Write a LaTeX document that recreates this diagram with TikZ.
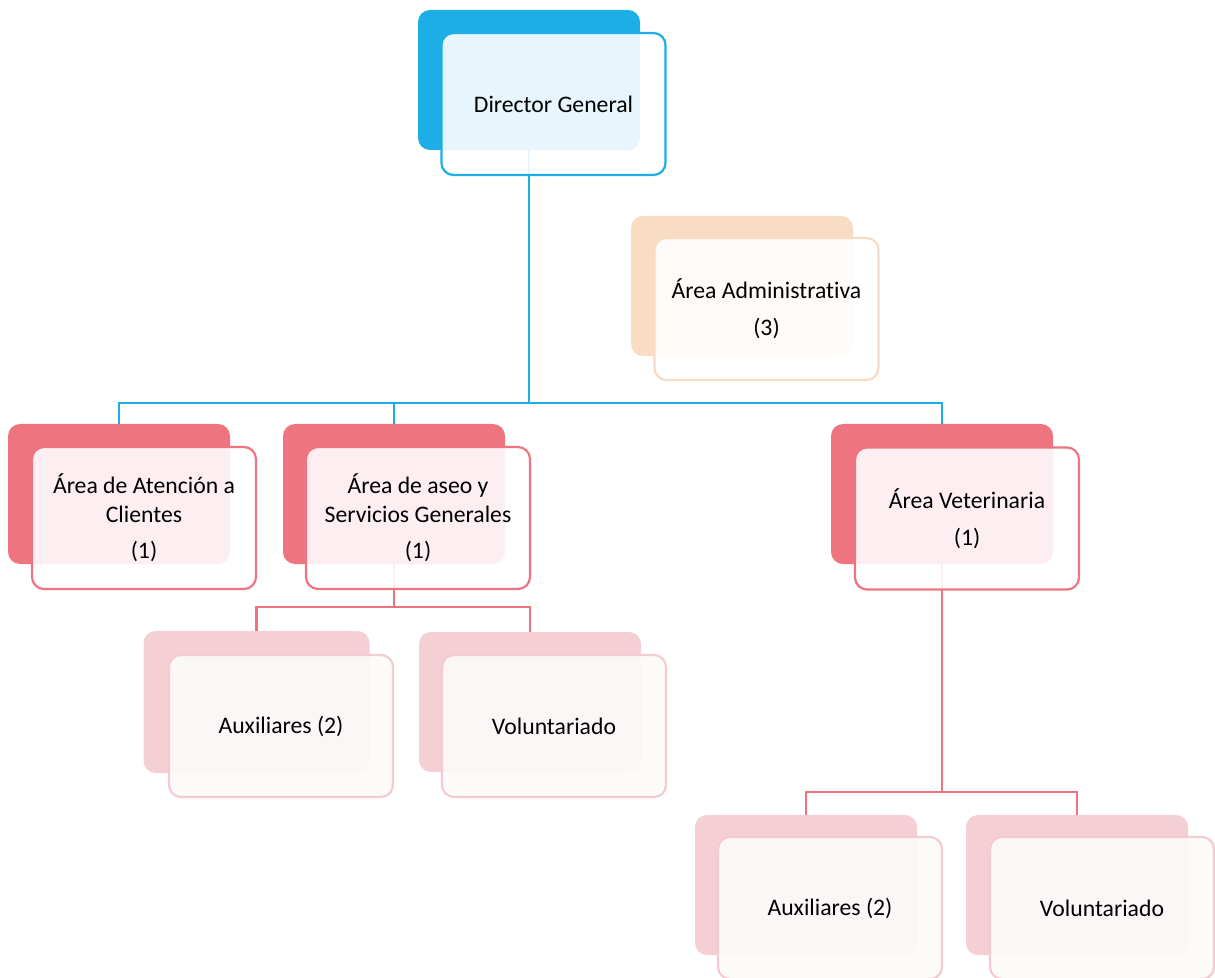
\documentclass[tikz,border=0pt]{standalone}
\usepackage{fontspec}
\setmainfont{Carlito}[Ligatures={NoCommon}]
\usetikzlibrary{backgrounds}
\definecolor{cy}{HTML}{1CAEE4}
\definecolor{pk}{HTML}{EE7480}
\definecolor{lpk}{HTML}{F4CFD4}
\definecolor{lpkb}{HTML}{F4CBD1}
\definecolor{pch}{HTML}{F8DCC3}
\definecolor{pchb}{HTML}{F7DBC2}
\definecolor{frontfill}{HTML}{FCFBFA}
\tikzset{
  backbox/.style={rounded corners=6pt, minimum width=111pt, minimum height=70pt, inner sep=0pt, draw=none, fill=#1},
  frontbox/.style={rounded corners=6pt, minimum width=112pt, minimum height=71pt, inner sep=0pt, draw=#1, line width=1.1pt,
    fill=white, fill opacity=0.89, draw opacity=1, text opacity=1, align=center,
    font=\fontsize{11.85}{14.25}\selectfont, text=black},
  lowfront/.style={frontbox=#1, fill=frontfill, fill opacity=0.92},
  conn/.style={line width=1.35pt, draw=#1},
}
\begin{document}
\begin{tikzpicture}[x=0.5pt,y=-0.5pt]
\useasboundingbox (0,0) rectangle (1215,978);
% back boxes
\node[backbox=cy]  (dirB)  at (529,80)  {};
\node[backbox=pch] (admB)  at (742,286) {};
\node[backbox=pk]  (atB)   at (119,494) {};
\node[backbox=pk]  (asB)   at (394,494) {};
\node[backbox=pk]  (vetB)  at (942,494) {};
\node[backbox=lpk, minimum width=113pt, minimum height=71pt] (aux1B) at (256.5,702) {};
\node[backbox=lpk] (vol1B) at (530,702) {};
\node[backbox=lpk] (aux2B) at (806,885) {};
\node[backbox=lpk] (vol2B) at (1077,885) {};
% connectors
\coordinate (j1) at (529,403);
\coordinate (j2) at (394,607);
\coordinate (j3) at (942,792);
\begin{scope}[on background layer]
\draw[conn=cy] (dirB.south) -- (j1);
\draw[conn=cy] (atB.north) |- (j1);
\draw[conn=cy] (asB.north) |- (j1);
\draw[conn=cy] (vetB.north) |- (j1);
\end{scope}
\draw[conn=pk] (asB.south) -- (j2);
\draw[conn=pk] (aux1B.north) |- (j2);
\draw[conn=pk] (vol1B.north) |- (j2);
\draw[conn=pk] (vetB.south) -- (j3);
\draw[conn=pk] (aux2B.north) |- (j3);
\draw[conn=pk] (vol2B.north) |- (j3);
% front boxes
\node[frontbox=cy]   (dir)  at (553.5,104) {Director General};
\node[frontbox=pchb] (adm)  at (766.5,309) {Área Administrativa\\[4pt](3)};
\node[frontbox=pk]   (at)   at (144,518)   {Área de Atención a\\Clientes\\[4pt](1)};
\node[frontbox=pk]   (as)   at (418,518)   {Área de aseo y\\Servicios Generales\\[4pt](1)};
\node[frontbox=pk]   (vet)  at (967,518.5) {Área Veterinaria\\[4pt](1)};
\node[lowfront=lpkb] (aux1) at (281,726)   {Auxiliares (2)};
\node[lowfront=lpkb] (vol1) at (554,726)   {Voluntariado};
\node[lowfront=lpkb] (aux2) at (830,908)   {Auxiliares (2)};
\node[lowfront=lpkb] (vol2) at (1102,908)  {Voluntariado};
\end{tikzpicture}
\end{document}
